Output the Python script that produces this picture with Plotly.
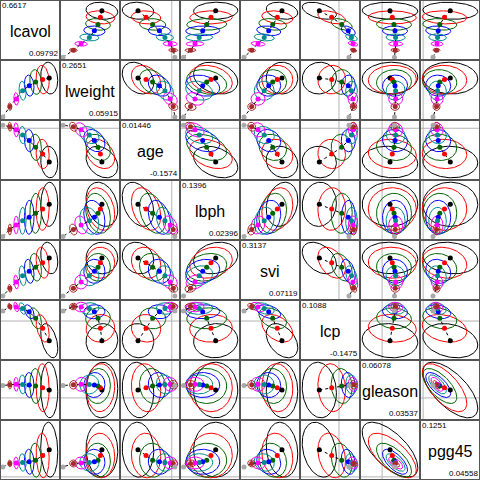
import numpy as np
import plotly.graph_objects as go

# ---------------- data ----------------
variables = ["lcavol", "lweight", "age", "lbph", "svi", "lcp", "gleason", "pgg45"]
ridge_colors = ["black", "red", "darkgreen", "blue", "darkcyan", "magenta", "brown", "darkgray"]

# ridge coefficients, one value per ridge constant (smallest -> largest)
coef_lcavol = [0.6617, 0.5813, 0.4961, 0.4182, 0.3378, 0.2599, 0.1832, 0.09792]
coef_lweight = [0.2651, 0.2571, 0.2444, 0.2252, 0.1986, 0.1549, 0.1140, 0.05915]
coef_age = [-0.1574, -0.1197, -0.0891, -0.0576, -0.0317, -0.0072, 0.0069, 0.01446]
coef_lbph = [0.1396, 0.1227, 0.1073, 0.0929, 0.0803, 0.0653, 0.0491, 0.02396]
coef_svi = [0.3137, 0.2837, 0.2544, 0.2288, 0.2001, 0.1605, 0.1203, 0.07119]
coef_lcp = [-0.1475, -0.0546, 0.0204, 0.0698, 0.0938, 0.1051, 0.1088, 0.0751]
coef_gleason = [0.03537, 0.0456, 0.0532, 0.0577, 0.0603, 0.06078, 0.0586, 0.0554]
coef_pgg45 = [0.1251, 0.0984, 0.0768, 0.0695, 0.0663, 0.0640, 0.0617, 0.04558]

# standard errors of the ridge coefficients
se_lcavol = [0.1035, 0.0792, 0.0706, 0.0585, 0.0426, 0.0280, 0.0207, 0.0073]
se_lweight = [0.0841, 0.0756, 0.0655, 0.0559, 0.0506, 0.0335, 0.0202, 0.0043]
se_age = [0.0735, 0.0683, 0.0612, 0.0518, 0.0400, 0.0330, 0.0212, 0.0047]
se_lbph = [0.0794, 0.0765, 0.0718, 0.0611, 0.0485, 0.0323, 0.0198, 0.0047]
se_svi = [0.1008, 0.0989, 0.0881, 0.0766, 0.0638, 0.0447, 0.0255, 0.0115]
se_lcp = [0.1282, 0.1034, 0.0787, 0.0525, 0.0435, 0.0360, 0.0247, 0.0112]
se_gleason = [0.1239, 0.1070, 0.0780, 0.0557, 0.0424, 0.0312, 0.0192, 0.0067]
se_pgg45 = [0.1264, 0.1025, 0.0781, 0.0575, 0.0404, 0.0276, 0.0161, 0.0055]

# correlations between coefficient estimates
corr_lcavol = [1.0, -0.15, -0.10, 0.05, -0.25, -0.45, -0.05, -0.10]
corr_lweight = [-0.15, 1.0, -0.30, -0.25, 0.0, 0.05, 0.05, -0.05]
corr_age = [-0.10, -0.30, 1.0, -0.35, -0.15, -0.05, -0.10, -0.05]
corr_lbph = [0.05, -0.25, -0.35, 1.0, 0.20, 0.05, 0.0, 0.0]
corr_svi = [-0.25, 0.0, -0.15, 0.20, 1.0, -0.40, -0.05, -0.15]
corr_lcp = [-0.45, 0.05, -0.05, 0.05, -0.40, 1.0, -0.10, -0.25]
corr_gleason = [-0.05, 0.05, -0.10, 0.0, -0.05, -0.10, 1.0, -0.65]
corr_pgg45 = [-0.10, -0.05, -0.05, 0.0, -0.15, -0.25, -0.65, 1.0]

coef = [coef_lcavol, coef_lweight, coef_age, coef_lbph, coef_svi, coef_lcp, coef_gleason, coef_pgg45]
se = [se_lcavol, se_lweight, se_age, se_lbph, se_svi, se_lcp, se_gleason, se_pgg45]
corr = [corr_lcavol, corr_lweight, corr_age, corr_lbph, corr_svi, corr_lcp, corr_gleason, corr_pgg45]

# ---------------- figure ----------------
nv = len(variables)
nk = len(ridge_colors)
radius = 1.0
t = np.linspace(0, 2 * np.pi, 121)

# axis limits from the ellipses (R style 4% expansion)
ranges = []
for v in range(nv):
    c = np.array(coef[v]); s = np.array(se[v]) * radius
    lo, hi = float((c - s).min()), float((c + s).max())
    pad = 0.04 * (hi - lo)
    ranges.append([lo - pad, hi + pad])

layout = dict(width=480, height=480, margin=dict(l=0, r=0, t=0, b=0),
              paper_bgcolor="white", plot_bgcolor="white", showlegend=False)
traces = []
shapes = []
annotations = []
FONT = "Liberation Sans, Arial, sans-serif"

for i in range(nv):          # row -> y variable
    for j in range(nv):      # col -> x variable
        n = i * nv + j + 1
        xr = "x" if n == 1 else f"x{n}"
        yr = "y" if n == 1 else f"y{n}"
        xkey = "xaxis" if n == 1 else f"xaxis{n}"
        ykey = "yaxis" if n == 1 else f"yaxis{n}"
        xdom = [j / nv, (j + 1) / nv]
        ydom = [1 - (i + 1) / nv, 1 - i / nv]
        if i == j:
            layout[xkey] = dict(domain=xdom, anchor=yr, range=[-0.04, 1.04], visible=False, fixedrange=True)
            layout[ykey] = dict(domain=ydom, anchor=xr, range=[-0.04, 1.04], visible=False, fixedrange=True)
            annotations.append(dict(x=0.5, y=0.5, xref=xr, yref=yr, text=variables[i], showarrow=False,
                                    font=dict(family=FONT, size=16, color="black"),
                                    xanchor="center", yanchor="middle", yshift=-1))
            annotations.append(dict(x=0.0, y=1.0, xref=xr, yref=yr, text=f"{max(coef[i]):.4g}", showarrow=False,
                                    font=dict(family=FONT, size=8, color="black"),
                                    xanchor="left", yanchor="top", borderpad=0, xshift=-1, yshift=2))
            annotations.append(dict(x=1.0, y=0.0, xref=xr, yref=yr, text=f"{min(coef[i]):.4g}", showarrow=False,
                                    font=dict(family=FONT, size=8, color="black"),
                                    xanchor="right", yanchor="bottom", borderpad=0, xshift=1, yshift=-1))
            continue
        layout[xkey] = dict(domain=xdom, anchor=yr, range=ranges[j], visible=False, fixedrange=True)
        layout[ykey] = dict(domain=ydom, anchor=xr, range=ranges[i], visible=False, fixedrange=True)
        # reference lines at zero
        if ranges[j][0] < 0 < ranges[j][1]:
            shapes.append(dict(type="line", xref=xr, yref=f"{yr} domain", x0=0, x1=0, y0=0, y1=1,
                               line=dict(color="#B3B3B3", width=1), layer="below"))
        if ranges[i][0] < 0 < ranges[i][1]:
            shapes.append(dict(type="line", xref=f"{xr} domain", yref=yr, x0=0, x1=1, y0=0, y1=0,
                               line=dict(color="#B3B3B3", width=1), layer="below"))
        r = corr[i][j]
        for k in range(nk):
            bx, by = coef[j][k], coef[i][k]
            sx, sy = se[j][k] * radius, se[i][k] * radius
            ex = bx + sx * np.cos(t)
            ey = by + sy * (r * np.cos(t) + np.sqrt(1 - r * r) * np.sin(t))
            traces.append(go.Scatter(x=ex, y=ey, xaxis=xr, yaxis=yr, mode="lines",
                                     line=dict(color=ridge_colors[k], width=1), hoverinfo="skip"))
        traces.append(go.Scatter(x=coef[j], y=coef[i], xaxis=xr, yaxis=yr, mode="lines",
                                 line=dict(color="black", width=1, dash="3px,3px"), hoverinfo="skip"))
        traces.append(go.Scatter(x=coef[j], y=coef[i], xaxis=xr, yaxis=yr, mode="markers",
                                 marker=dict(color=ridge_colors, size=5, line=dict(width=0)), hoverinfo="skip"))

# panel frames
for k in range(nv + 1):
    p = k / nv
    shapes.append(dict(type="line", xref="paper", yref="paper", x0=p, x1=p, y0=0, y1=1,
                       line=dict(color="#555555", width=2)))
    shapes.append(dict(type="line", xref="paper", yref="paper", x0=0, x1=1, y0=p, y1=p,
                       line=dict(color="#555555", width=2)))

layout["shapes"] = shapes
layout["annotations"] = annotations
fig = go.Figure(data=traces, layout=layout)
fig.write_html("out.html")
